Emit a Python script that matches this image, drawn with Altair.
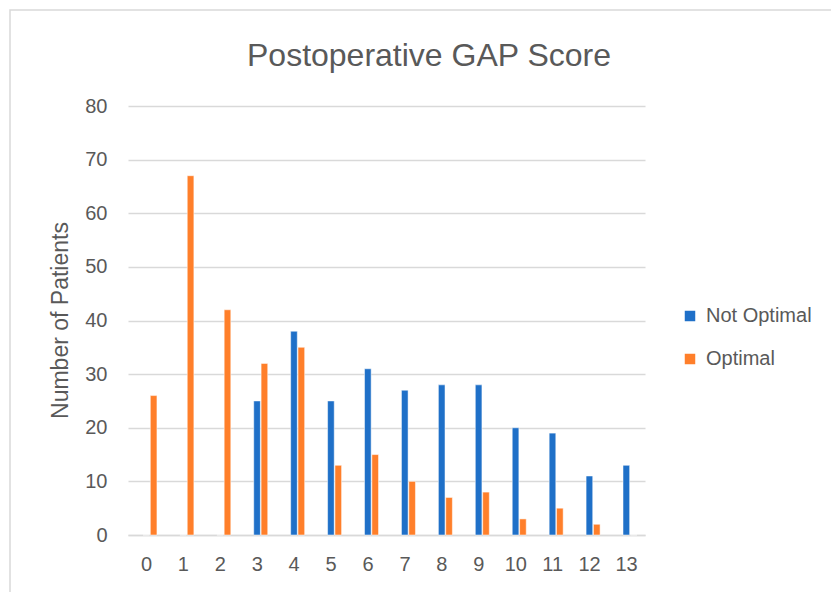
import altair as alt
import pandas as pd

scores = [str(i) for i in range(14)]
not_optimal = [0, 0, 0, 25, 38, 25, 31, 27, 28, 28, 20, 19, 11, 13]
optimal = [26, 67, 42, 32, 35, 13, 15, 10, 7, 8, 3, 5, 2, 0]
series = ["Not Optimal", "Optimal"]
colors = ["#1f70c8", "#ff7f2a"]

rows = []
for s, a, b in zip(scores, not_optimal, optimal):
    rows.append({"score": s, "series": series[0], "count": a})
    rows.append({"score": s, "series": series[1], "count": b})
df = pd.DataFrame(rows)

GRAY = "#595959"
LINE = "#d9d9d9"
FONT = "Liberation Sans"

bars = alt.Chart(df).mark_bar(stroke="white", strokeWidth=0.5).encode(
    x=alt.X("score:N", sort=scores, title=None,
            scale=alt.Scale(paddingInner=0.62, paddingOuter=0.31),
            axis=alt.Axis(labelAngle=0, labelFontSize=20, labelColor=GRAY, labelFont=FONT,
                          labelPadding=19, ticks=False, grid=False,
                          domainColor=LINE, domainWidth=1.5)),
    xOffset=alt.XOffset("series:N", sort=series,
                        scale=alt.Scale(paddingInner=0.1, range=[3.5, 17.5])),
    y=alt.Y("count:Q", title="Number of Patients",
            scale=alt.Scale(domain=[0, 80]),
            axis=alt.Axis(values=list(range(0, 81, 10)), labelFontSize=20, labelColor=GRAY,
                          labelFont=FONT, labelPadding=21, ticks=False, domain=False,
                          gridColor=LINE, gridWidth=1.5,
                          titleFontSize=23, titleFont=FONT, titleColor=GRAY, titleFontWeight="normal",
                          titleX=-68, titleY=214, titleAngle=-90, titleAlign="center",
                          titleBaseline="middle")),
    color=alt.Color("series:N", sort=series,
                    scale=alt.Scale(domain=series, range=colors),
                    legend=alt.Legend(title=None, orient="none", legendX=552, legendY=200,
                                      symbolType="square", symbolSize=110, symbolStrokeWidth=0,
                                      labelFontSize=20, labelColor=GRAY, labelFont=FONT,
                                      rowPadding=23, labelOffset=6)),
)

frame = alt.Chart(pd.DataFrame({"a": [0]})).mark_rect(
    fill=None, stroke=LINE, strokeWidth=1.5, clip=False
).encode(
    x=alt.value(-118), x2=alt.value(704), y=alt.value(-96), y2=alt.value(620)
)

title = alt.Chart(pd.DataFrame({"t": ["Postoperative GAP Score"]})).mark_text(
    fontSize=32, font=FONT, color=GRAY, align="center", baseline="middle"
).encode(text="t:N", x=alt.value(301), y=alt.value(-50))

chart = alt.layer(frame, bars, title).properties(
    width=517, height=429,
    autosize=alt.AutoSizeParams(type="none"),
    padding={"left": 120, "top": 98, "right": 186, "bottom": 65},
).configure(background="white").configure_view(stroke=None, strokeWidth=0)

chart.save("out.html", embed_options={"renderer": "svg", "actions": False})
